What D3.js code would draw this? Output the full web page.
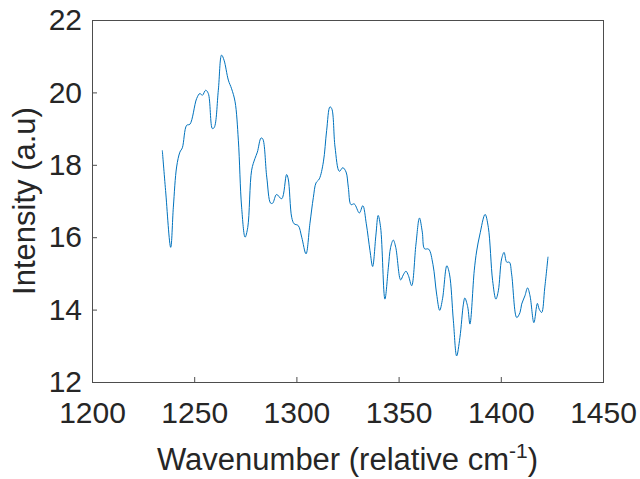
<!DOCTYPE html>
<html>
<head>
<meta charset="utf-8">
<script src="https://cdn.jsdelivr.net/npm/d3@7"></script>
<style>
  body { margin: 0; background: #fff; }
  text { font-family: "Liberation Sans", Arial, sans-serif; fill: #262626; }
</style>
</head>
<body>
<svg id="chart" width="640" height="479"></svg>
<script>
// Spectrum
const wavenumber = [
  1234.4, 1236.0, 1238.5, 1239.8, 1241.4, 1243.0, 1244.2, 1246.3, 1247.9, 1251.2,
  1252.8, 1254.0, 1255.6, 1256.9, 1258.9, 1259.8, 1261.8, 1263.4, 1264.6, 1266.7,
  1268.3, 1270.0, 1271.6, 1273.2, 1274.9, 1276.2, 1278.1, 1279.7, 1280.9, 1282.7,
  1283.5, 1285.5, 1287.4, 1288.4, 1290.3, 1292.8, 1295.2, 1296.0, 1297.7, 1298.9,
  1300.9, 1302.6, 1304.7, 1306.6, 1308.3, 1309.6, 1311.2, 1313.2, 1314.8, 1316.4,
  1317.3, 1318.9, 1321.0, 1322.7, 1324.3, 1325.4, 1326.7, 1328.3, 1330.8, 1332.5,
  1334.2, 1336.0, 1337.3, 1338.9, 1340.0, 1341.2, 1343.3, 1345.0, 1346.1, 1347.4,
  1348.6, 1351.0, 1352.3, 1353.6, 1354.8, 1356.4, 1358.5, 1360.2, 1361.6, 1362.7,
  1364.7, 1366.8, 1368.6, 1370.1, 1371.5, 1373.6, 1374.9, 1376.8, 1378.4, 1380.0,
  1381.7, 1382.4, 1383.8, 1384.9, 1387.0, 1388.2, 1389.7, 1392.3, 1393.9, 1396.0,
  1397.6, 1398.8, 1400.4, 1401.6, 1402.9, 1404.2, 1405.3, 1407.8, 1409.4, 1410.2,
  1411.8, 1413.1, 1414.3, 1416.2, 1417.9, 1418.8, 1420.0, 1421.5, 1423.1
];
const intensity = [
  18.40, 17.29, 15.72, 16.83, 17.94, 18.35, 18.47, 19.09, 19.12, 19.83,
  19.97, 19.92, 20.06, 19.97, 19.00, 19.03, 20.06, 21.03, 20.89, 20.34,
  20.10, 19.74, 18.68, 16.83, 16.00, 16.27, 17.85, 18.17, 18.35, 18.74,
  18.72, 17.66, 16.94, 16.94, 17.18, 17.06, 17.73, 17.61, 16.55, 16.37,
  16.32, 16.00, 15.54, 16.37, 17.10, 17.50, 17.61, 18.08, 18.95, 19.60,
  19.55, 18.49, 17.82, 17.92, 17.80, 17.38, 16.90, 16.92, 16.67, 16.87,
  16.37, 15.63, 15.19, 16.06, 16.60, 16.27, 14.29, 15.17, 15.72, 15.92,
  15.72, 14.82, 14.96, 15.06, 14.94, 14.66, 15.81, 16.53, 16.14, 15.68,
  15.67, 15.25, 14.43, 13.98, 14.30, 15.21, 14.98, 13.69, 12.72, 13.23,
  14.15, 14.32, 14.08, 13.60, 15.07, 15.62, 16.06, 16.63, 16.27, 14.80,
  14.29, 14.52, 15.40, 15.58, 15.31, 15.31, 14.98, 13.78, 13.92, 14.15,
  14.38, 14.60, 14.38, 13.64, 14.17, 14.01, 13.92, 14.60, 15.46
];
const xTicks = [1200, 1250, 1300, 1350, 1400, 1450];
const yTicks = [12, 14, 16, 18, 20, 22];

const svg = d3.select("#chart");
const margin = {left: 92, top: 20, right: 37, bottom: 97};
const width = 640 - margin.left - margin.right;
const height = 479 - margin.top - margin.bottom;

const x = d3.scaleLinear().domain([1200, 1450]).range([0, width]);
const y = d3.scaleLinear().domain([12, 22]).range([height, 0]);

const g = svg.append("g")
    .attr("transform", `translate(${margin.left},${margin.top})`);

// the data line
const data = wavenumber.map((w, i) => [w, intensity[i]]);
g.append("path")
    .datum(data)
    .attr("fill", "none")
    .attr("stroke", "#0072BD")
    .attr("stroke-width", 1)
    .attr("d", d3.line()
        .x(d => x(d[0]))
        .y(d => y(d[1]))
        .curve(d3.curveCatmullRom));

// box, ticks pointing inward (matlab style)
const axColor = "#4d4d4d";
function styleAxis(sel) {
    sel.select(".domain").remove();
    sel.selectAll(".tick line").attr("stroke", axColor);
    sel.selectAll(".tick text")
        .attr("font-size", "30px")
        .attr("fill", "#262626");
}
g.append("g")
    .attr("transform", `translate(0,${height})`)
    .call(d3.axisBottom(x).tickValues(xTicks).tickFormat(d3.format("d"))
        .tickSizeInner(-5).tickSizeOuter(0).tickPadding(20))
    .call(styleAxis);
g.append("g")
    .call(d3.axisLeft(y).tickValues(yTicks).tickFormat(d3.format("d"))
        .tickSizeInner(-5).tickSizeOuter(0).tickPadding(10))
    .call(styleAxis);

g.append("rect")
    .attr("x", 0.5).attr("y", 0.5)
    .attr("width", width).attr("height", height)
    .attr("fill", "none")
    .attr("stroke", axColor)
    .attr("stroke-width", 1);

// axis labels
const xl = svg.append("text")
    .attr("x", margin.left + width / 2)
    .attr("y", 470)
    .attr("text-anchor", "middle")
    .attr("font-size", "31px");
xl.append("tspan").text("Wavenumber (relative cm");
xl.append("tspan").attr("dy", -12).attr("font-size", "21px").text("-1");
xl.append("tspan").attr("dy", 12).text(")");

svg.append("text")
    .attr("transform", `translate(35,${margin.top + height / 2}) rotate(-90)`)
    .attr("text-anchor", "middle")
    .attr("font-size", "31px")
    .text("Intensity (a.u)");
</script>
</body>
</html>
